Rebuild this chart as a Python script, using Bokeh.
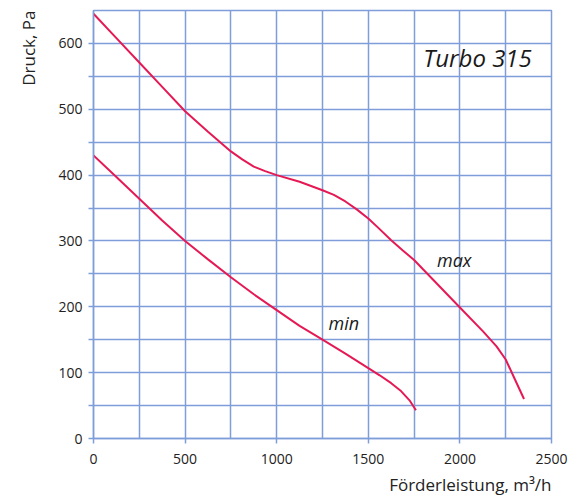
from bokeh.plotting import figure
from bokeh.models import FixedTicker, Range1d, Label, Title
from bokeh.embed import file_html
from bokeh.resources import INLINE

# data
max_x = [0, 125, 250, 375, 500, 625, 750, 812, 875, 937, 1000, 1125, 1250, 1312, 1375, 1437, 1500, 1562, 1625, 1687, 1750, 1875, 2000, 2125, 2200, 2250, 2300, 2350]
max_y = [645, 608, 571, 534, 497, 466, 436, 424, 413, 406, 400, 390, 377, 370, 360, 348, 334, 318, 301, 286, 271, 235, 199, 163, 140, 120, 90, 60]
min_x = [0, 125, 250, 375, 500, 625, 750, 875, 1000, 1125, 1250, 1375, 1500, 1562, 1625, 1675, 1725, 1760]
min_y = [430, 397, 364, 331, 300, 272, 245, 219, 195, 171, 150, 129, 107, 96, 84, 73, 58, 43]

x_ticks = [0, 500, 1000, 1500, 2000, 2500]
y_ticks = [0, 100, 200, 300, 400, 500, 600]
y_minor = [50, 150, 250, 350, 450, 550]
x_grid = [0, 250, 500, 750, 1000, 1250, 1500, 1750, 2000, 2250, 2500]
y_grid = [0, 50, 100, 150, 200, 250, 300, 350, 400, 450, 500, 550, 600, 650]

x_title = "Förderleistung, m³/h"
y_title = "Druck, Pa"

GRID = "#7f9ed9"
CURVE = "#e51a55"
FONT = "Open Sans"

p = figure(width=574, height=499, output_backend="svg", toolbar_location=None,
           x_range=Range1d(0, 2500), y_range=Range1d(0, 650),
           min_border_left=93, min_border_right=23, min_border_top=10, min_border_bottom=60)

p.background_fill_color = "white"
p.border_fill_color = "white"
p.outline_line_color = GRID
p.outline_line_width = 1.5

p.xgrid.ticker = FixedTicker(ticks=x_grid)
p.ygrid.ticker = FixedTicker(ticks=y_grid)
for g in (p.xgrid, p.ygrid):
    g.grid_line_color = GRID
    g.grid_line_width = 1.5

p.xaxis.ticker = FixedTicker(ticks=x_ticks)
p.yaxis.ticker = FixedTicker(ticks=y_ticks, minor_ticks=y_minor)

for ax in (p.xaxis, p.yaxis):
    ax.axis_line_color = GRID
    ax.axis_line_width = 1.5
    ax.major_tick_line_color = GRID
    ax.major_tick_line_width = 1.5
    ax.major_tick_in = 0
    ax.major_tick_out = 5
    ax.minor_tick_line_color = GRID
    ax.minor_tick_line_width = 1.5
    ax.minor_tick_in = 0
    ax.minor_tick_out = 5
    ax.major_label_text_font = FONT
    ax.major_label_text_font_size = "14px"
    ax.major_label_text_color = "#222222"

p.xaxis.minor_tick_line_color = None
p.xaxis.major_label_standoff = 10
p.yaxis.major_label_standoff = 6

p.add_layout(Title(text=x_title, align="right", text_font=FONT, text_font_size="17px",
                   text_font_style="normal", text_color="#222222", standoff=8), "below")
p.add_layout(Title(text=y_title, align="right", vertical_align="top", text_font=FONT,
                   text_font_size="17px", text_font_style="normal", text_color="#222222",
                   standoff=28), "left")

p.line(max_x, max_y, line_color=CURVE, line_width=2)
p.line(min_x, min_y, line_color=CURVE, line_width=2)

p.add_layout(Label(x=1800, y=578, text="Turbo 315", text_font=FONT, text_font_style="italic",
                   text_font_size="24px", text_color="#1a1a1a", text_baseline="middle"))
p.add_layout(Label(x=1875, y=271, text="max", text_font=FONT, text_font_style="italic",
                   text_font_size="18px", text_color="#1a1a1a", text_baseline="alphabetic"))
p.add_layout(Label(x=1283, y=175, text="min", text_font=FONT, text_font_style="italic",
                   text_font_size="18px", text_color="#1a1a1a", text_baseline="alphabetic"))

open("out.html", "w").write(file_html(p, INLINE))
